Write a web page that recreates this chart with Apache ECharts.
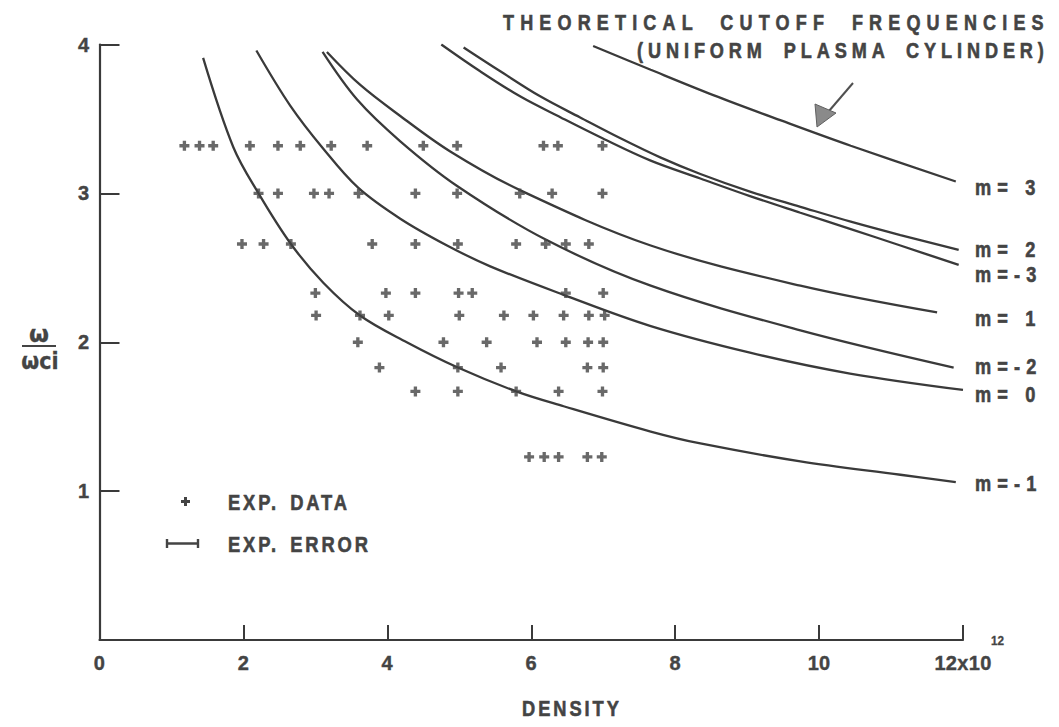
<!DOCTYPE html>
<html>
<head>
<meta charset="utf-8">
<script src="https://cdn.jsdelivr.net/npm/echarts@6/dist/echarts.min.js"></script>
<style>
  html, body { margin: 0; padding: 0; background: #ffffff; }
  #chart { width: 1059px; height: 727px; }
  /* letter spacing for the hand-lettered look, keyed by font size */
  #chart text[style*="22px"] { letter-spacing: 7.5px; word-spacing: 13px; }
  #chart text[style*="22.1px"] { letter-spacing: 6px; word-spacing: 8.5px; }
  #chart text[style*="22.2px"] { letter-spacing: 7.5px; }
  #chart text[style*="22.3px"] { letter-spacing: 3.6px; }
  #chart text[style*="22.4px"] { letter-spacing: 3.5px; word-spacing: 4px; }
  #chart text[style*="20px"] { letter-spacing: 0.3px; }
</style>
</head>
<body>
<div id="chart"></div>
<script>
// Axis ticks
const densityTicks = [0, 2, 4, 6, 8, 10, 12];
const ratioTicks = [1, 2, 3, 4];

// Measured cutoff frequencies: [density (1e12), omega / omega_ci]
const expData = [
  [1.18, 3.32], [1.39, 3.32], [1.58, 3.32], [2.09, 3.32], [2.48, 3.32], [2.79, 3.32], [3.22, 3.32],
  [3.72, 3.32], [4.50, 3.32], [4.97, 3.32], [6.17, 3.32], [6.37, 3.32], [6.99, 3.32],
  [2.21, 3.00], [2.48, 3.00], [2.98, 3.00], [3.19, 3.00], [3.60, 3.00], [4.39, 3.00], [4.97, 3.00],
  [5.84, 3.00], [6.29, 3.00], [6.99, 3.00],
  [1.98, 2.66], [2.28, 2.66], [2.66, 2.66], [3.79, 2.66], [4.39, 2.66], [4.98, 2.66], [5.79, 2.66],
  [6.20, 2.66], [6.48, 2.66], [6.80, 2.66],
  [3.00, 2.33], [3.98, 2.33], [4.39, 2.33], [4.99, 2.33], [5.18, 2.33], [6.48, 2.33], [7.00, 2.33],
  [3.01, 2.18], [3.62, 2.18], [4.02, 2.18], [5.00, 2.18], [5.62, 2.18], [6.03, 2.18], [6.45, 2.18],
  [6.80, 2.18], [7.02, 2.18],
  [3.59, 2.00], [4.78, 2.00], [5.38, 2.00], [6.08, 2.00], [6.48, 2.00], [6.79, 2.00], [7.00, 2.00],
  [3.89, 1.83], [4.98, 1.83], [5.58, 1.83], [6.78, 1.83], [7.00, 1.83],
  [4.39, 1.67], [4.98, 1.67], [5.79, 1.67], [6.38, 1.67], [6.99, 1.67],
  [5.97, 1.23], [6.18, 1.23], [6.38, 1.23], [6.78, 1.23], [6.98, 1.23]
];

// Theoretical cutoff curves for a uniform plasma cylinder
const curveM3 = [[6.86, 3.99], [7.66, 3.83], [8.53, 3.66], [9.47, 3.49], [10.44, 3.32], [11.90, 3.08]];
const curveM2 = [[5.06, 3.98], [5.57, 3.82], [6.13, 3.65], [6.68, 3.51], [7.24, 3.37], [7.80, 3.24],
                 [8.35, 3.13], [9.05, 3.01], [9.74, 2.91], [10.44, 2.81], [11.13, 2.72], [11.94, 2.62]];
const curveMm3 = [[4.75, 4.00], [5.29, 3.82], [5.85, 3.65], [6.41, 3.51], [6.99, 3.37], [7.66, 3.22],
                  [8.35, 3.10], [9.05, 2.98], [9.74, 2.87], [10.44, 2.76], [11.13, 2.65], [11.94, 2.52]];
const curveM1 = [[3.16, 3.95], [3.62, 3.73], [4.18, 3.52], [4.88, 3.28], [5.85, 3.02], [7.66, 2.65],
                 [9.74, 2.38], [11.64, 2.20]];
const curveMm2 = [[3.10, 3.95], [3.58, 3.63], [4.18, 3.35], [4.97, 3.05], [6.20, 2.69], [7.66, 2.38],
                  [9.74, 2.08], [11.87, 1.83]];
const curveM0 = [[2.18, 3.96], [2.65, 3.59], [3.11, 3.30], [3.59, 3.04], [4.18, 2.83], [4.83, 2.65],
                 [5.43, 2.51], [6.44, 2.32], [7.65, 2.11], [9.04, 1.93], [10.43, 1.79], [12.00, 1.68]];
const curveMm1 = [[1.44, 3.91], [1.86, 3.31], [2.21, 3.00], [2.66, 2.66], [3.11, 2.40], [3.62, 2.18],
                  [4.27, 2.00], [4.98, 1.83], [5.79, 1.67], [6.45, 1.57], [7.66, 1.40], [8.35, 1.32],
                  [9.74, 1.20], [11.13, 1.11], [11.90, 1.06]];

const curveNames = ['m= 3', 'm= 2', 'm=-3', 'm= 1', 'm=-2', 'm= 0', 'm=-1'];
const curves = [curveM3, curveM2, curveMm3, curveM1, curveMm2, curveM0, curveMm1];

const ink = '#3a3a3a';
const textInk = '#444444';
const sans = "'Liberation Sans', Arial, sans-serif";
const greek = "'DejaVu Sans', sans-serif";
// lettering is narrower than the available faces, so it is squeezed horizontally
const squeeze = 0.82;

const plusPath = 'path://M3,0h3v3h3v3h-3v3h-3v-3h-3v-3h3z';

const chart = echarts.init(document.getElementById('chart'), null, { renderer: 'svg' });

const series = curves.map(function (pts, i) {
  return {
    name: curveNames[i],
    type: 'line',
    data: pts,
    smooth: 0.35,
    showSymbol: false,
    silent: true,
    lineStyle: { color: ink, width: 2.3 },
    z: 2
  };
});
series.push({
  name: 'EXP. DATA',
  type: 'scatter',
  data: expData,
  symbol: plusPath,
  symbolSize: 10,
  itemStyle: { color: '#444444' },
  silent: true,
  z: 3
});

function txt(x, y, s, size, opts) {
  opts = opts || {};
  return {
    type: 'text', x: x, y: y,
    scaleX: opts.scaleX == null ? squeeze : opts.scaleX,
    style: {
      text: s,
      font: 'bold ' + size + 'px ' + (opts.family || sans),
      fill: textInk,
      stroke: textInk,
      lineWidth: opts.weight == null ? 0.6 : opts.weight,
      textAlign: opts.align || 'left',
      textVerticalAlign: 'middle'
    }
  };
}

// Curve labels at the right edge
const labelY = [187, 249, 274, 318, 366, 394, 483];
const graphics = curveNames.map(function (name, i) { return txt(975, labelY[i], name, 22.2); });

graphics.push(
  // Heading
  txt(503, 22, 'THEORETICAL CUTOFF FREQUENCIES', 22),
  txt(637, 50, '(UNIFORM PLASMA CYLINDER)', 22.1),
  // Arrow pointing at the curves
  { type: 'line', shape: { x1: 853, y1: 83, x2: 829, y2: 111 },
    style: { stroke: '#505050', lineWidth: 2 } },
  { type: 'polygon', shape: { points: [[817, 127], [815, 104], [836, 113]] },
    style: { fill: '#8a8a8a', stroke: '#606060', lineWidth: 1 } },
  // Y-axis title: omega over omega_ci
  txt(39, 334, 'ω', 23, { family: greek, align: 'center', scaleX: 1, weight: 0.3 }),
  { type: 'line', shape: { x1: 22, y1: 346, x2: 56, y2: 346 },
    style: { stroke: textInk, lineWidth: 2 } },
  txt(40, 361, 'ωci', 23, { family: greek, align: 'center', scaleX: 0.9, weight: 0.3 }),
  // Exponent on the last density label
  txt(991, 641, '12', 13, { scaleX: 0.9, weight: 0.3 }),
  // X-axis title
  txt(522, 708, 'DENSITY', 22.3),
  // Key
  { type: 'polygon',
    shape: { points: [[184, 497], [187, 497], [187, 500], [190, 500], [190, 503], [187, 503], [187, 506],
                      [184, 506], [184, 503], [181, 503], [181, 500], [184, 500]] },
    style: { fill: '#444444' } },
  txt(228, 502, 'EXP. DATA', 22.4),
  { type: 'polyline', shape: { points: [[167, 539], [167, 548], [167, 543.5], [198, 543.5], [198, 539], [198, 548]] },
    style: { stroke: '#444444', lineWidth: 2.4, fill: null } },
  txt(228, 544, 'EXP. ERROR', 22.4)
);

const axisText = {
  color: textInk, fontFamily: sans, fontWeight: 'bold', fontSize: 20,
  textBorderColor: textInk, textBorderWidth: 0.4
};

chart.setOption({
  animation: false,
  backgroundColor: '#ffffff',
  grid: { left: 99.5, right: 96, top: 44.5, bottom: 87, containLabel: false },
  xAxis: {
    type: 'value',
    min: densityTicks[0],
    max: densityTicks[densityTicks.length - 1],
    interval: densityTicks[1] - densityTicks[0],
    axisLine: { show: true, onZero: false, lineStyle: { color: ink, width: 2.2 } },
    axisTick: { show: true, inside: true, length: 15, lineStyle: { color: ink, width: 2 } },
    splitLine: { show: false },
    axisLabel: Object.assign({
      margin: 13,
      formatter: function (v) { return v === 12 ? '12x10' : String(v); }
    }, axisText)
  },
  yAxis: {
    type: 'value',
    min: 0,
    max: ratioTicks[ratioTicks.length - 1],
    interval: 1,
    axisLine: { show: true, onZero: false, lineStyle: { color: ink, width: 2.2 } },
    axisTick: { show: true, inside: true, length: 20, lineStyle: { color: ink, width: 2 } },
    splitLine: { show: false },
    axisLabel: Object.assign({
      margin: 10,
      formatter: function (v) { return ratioTicks.indexOf(v) >= 0 ? String(v) : ''; }
    }, axisText)
  },
  series: series,
  graphic: graphics
});
</script>
</body>
</html>
